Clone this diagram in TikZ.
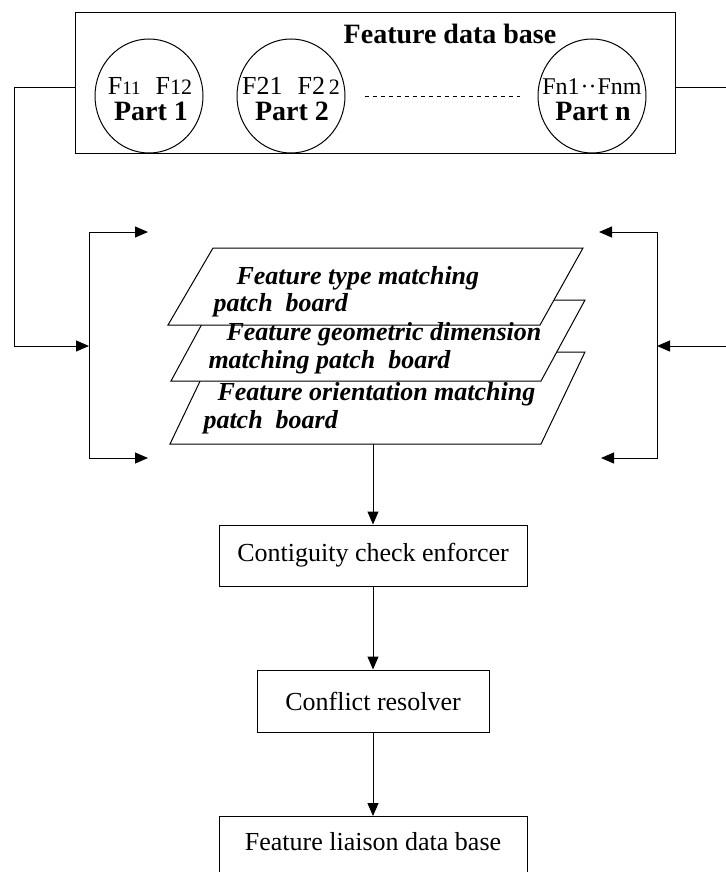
\documentclass[tikz,border=0pt]{standalone}
\usepackage{fontspec}
\setmainfont{Liberation Serif}
\usetikzlibrary{arrows.meta,shapes.geometric}
\begin{document}
\begin{tikzpicture}[x=1pt,y=-1pt,line width=1pt,
  tri/.style={-{Triangle[length=13pt,width=11pt]}},
  twotri/.style={{Triangle[length=13pt,width=11pt]}-{Triangle[length=13pt,width=11pt]}},
  stepbox/.style={draw,rectangle,inner sep=0pt,fill=white},
  part/.style={draw,ellipse,inner sep=0pt,minimum width=108pt,minimum height=114pt},
  txt/.style={inner sep=0pt,font=\fontsize{26}{30}\selectfont},
  btxt/.style={inner sep=0pt,font=\fontsize{28}{32}\selectfont\bfseries},
  itxt/.style={inner sep=0pt,anchor=base west,font=\fontsize{26}{30}\selectfont\bfseries\itshape}]
\useasboundingbox (0,0) rectangle (725,872);

% feature data base with its part circles
\node[stepbox,anchor=north west,minimum width=600pt,minimum height=141pt] (fdb) at (75,12) {};
\begin{scope}
  \clip (fdb.north west) rectangle (fdb.south east);
  \node[part] (p1) at (149,96) {};
  \node[part] (p2) at (291,96) {};
  \node[part] (pn) at (592,96) {};
\end{scope}
\node[btxt,anchor=base] (fdbt) at (450,44) {Feature data base};
\node[txt,anchor=base] (f1) at (150,95) {F{\fontsize{19}{22}\selectfont 11}\,\, F{\fontsize{22}{24}\selectfont 12}};
\node[txt,anchor=base] (f2) at (291,95) {F21\,\, F2{\fontsize{22}{24}\selectfont\,2}};
\node[txt,anchor=base,font=\fontsize{24}{28}\selectfont] (fn) at (592,95) {Fn1\kern1pt\textperiodcentered\textperiodcentered\kern1pt Fnm};
\node[btxt,anchor=base] (t1) at (151,121) {Part 1};
\node[btxt,anchor=base] (t2) at (292,121) {Part 2};
\node[btxt,anchor=base] (tn) at (593,121) {Part n};
\coordinate (dotsL) at (365,97);
\coordinate (dotsR) at (520,97);
\draw[dash pattern=on 4pt off 4pt] (dotsL) -- (dotsR);

% stacked matching patch boards (drawn back to front)
\coordinate (c3a) at (170,444); \coordinate (c3b) at (541,444);
\coordinate (c3c) at (585,352); \coordinate (c3d) at (214,352);
\coordinate (c2a) at (171,381); \coordinate (c2b) at (541,381);
\coordinate (c2c) at (585,300); \coordinate (c2d) at (215,300);
\coordinate (c1a) at (168,325); \coordinate (c1b) at (540,325);
\coordinate (c1c) at (583,248); \coordinate (c1d) at (213,248);
\filldraw[fill=white] (c3a) -- (c3b) -- (c3c) -- (c3d) -- cycle;
\filldraw[fill=white] (c2a) -- (c2b) -- (c2c) -- (c2d) -- cycle;
\filldraw[fill=white] (c1a) -- (c1b) -- (c1c) -- (c1d) -- cycle;
\node[itxt] (b1l1) at (236,284) {Feature type matching};
\node[itxt] (b1l2) at (213,311) {patch~ board};
\node[itxt] (b2l1) at (226,340) {Feature geometric dimension};
\node[itxt] (b2l2) at (208,368) {matching patch~ board};
\node[itxt] (b3l1) at (217,400) {Feature orientation matching};
\node[itxt] (b3l2) at (203,428) {patch~ board};
\coordinate (boardout) at (373,444);

% feedback brackets on both sides
\coordinate (feedL) at (75,88);
\coordinate (cornerL) at (14,88);
\coordinate (inL) at (89,346);
\coordinate (brLt) at (89,232);
\coordinate (brLb) at (89,458);
\coordinate (tipLt) at (148,232);
\coordinate (tipLb) at (148,458);
\draw[tri] (feedL) -- (cornerL) |- (inL);
\draw[twotri] (tipLt) -- (brLt) -- (brLb) -- (tipLb);

\coordinate (feedR) at (675,88);
\coordinate (cornerR) at (728,88);
\coordinate (inR) at (657,346);
\coordinate (brRt) at (657,232);
\coordinate (brRb) at (657,458);
\coordinate (tipRt) at (599,232);
\coordinate (tipRb) at (601,458);
\draw[tri] (feedR) -- (cornerR) |- (inR);
\draw[twotri] (tipRt) -- (brRt) -- (brRb) -- (tipRb);

% processing chain
\node[stepbox,txt,minimum width=308pt,minimum height=61pt,inner sep=0pt] (contig) at (373,555.5) {Contiguity check enforcer};
\node[stepbox,txt,minimum width=232pt,minimum height=62pt,inner sep=0pt] (conflict) at (373,701) {Conflict resolver};
\node[stepbox,anchor=north,minimum width=308pt,minimum height=66pt] (liaison) at (373,816) {};
\node[txt,anchor=base] (liaisont) at (373,850) {Feature liaison data base};

\draw[tri] (boardout) -- (contig.north);
\draw[tri] (contig.south) -- (conflict.north);
\draw[tri] (conflict.south) -- (liaison.north);
\end{tikzpicture}
\end{document}
